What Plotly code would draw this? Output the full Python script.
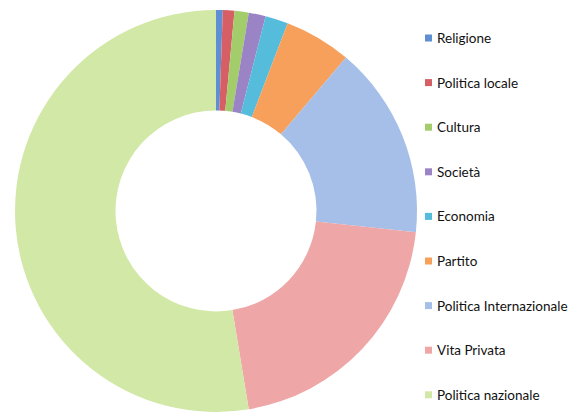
import plotly.graph_objects as go

labels = ["Religione", "Politica locale", "Cultura", "Società", "Economia",
          "Partito", "Politica Internazionale", "Vita Privata", "Politica nazionale"]
values = [0.54, 0.93, 1.14, 1.36, 1.83, 5.39, 15.5, 20.7, 52.6]
colors = ["#5f8fd3", "#d65f66", "#a3cc6a", "#9a84c6", "#56bcdc",
          "#f7a05c", "#a6bfe9", "#eea6a6", "#d2e8a6"]

W, H = 569, 412

fig = go.Figure()
fig.add_trace(go.Pie(
    labels=labels, values=values, hole=0.5, sort=False,
    direction="clockwise", rotation=0,
    marker=dict(colors=colors, line=dict(width=0)),
    textinfo="none", showlegend=False,
    domain=dict(x=[15 / W, 417 / W], y=[0.0, 0.976]),
))

# legend drawn as key squares + text, laid out from the label list
legend_top = 38.0   # px from top, centre of first entry
legend_step = 44.6  # px between entries
sym_x0, sym_size, text_x = 425.0, 7.0, 435.0
shapes, annotations = [], []
for i, (lab, col) in enumerate(zip(labels, colors)):
    yc = legend_top + i * legend_step
    shapes.append(dict(
        type="rect", xref="paper", yref="paper",
        x0=sym_x0 / W, x1=(sym_x0 + sym_size) / W,
        y0=1 - (yc + sym_size / 2) / H, y1=1 - (yc - sym_size / 2) / H,
        fillcolor=col, line=dict(width=0),
    ))
    annotations.append(dict(
        text=lab, xref="paper", yref="paper", x=text_x / W, y=1 - yc / H,
        xanchor="left", yanchor="middle", showarrow=False,
        font=dict(size=13.5, color="#111111"),
    ))

fig.update_layout(
    width=W, height=H, margin=dict(l=0, r=0, t=0, b=0),
    paper_bgcolor="white", plot_bgcolor="white",
    font=dict(family="Lato, Open Sans, sans-serif", size=13.5, color="#111111"),
    shapes=shapes, annotations=annotations,
)

fig.write_html("out.html")
